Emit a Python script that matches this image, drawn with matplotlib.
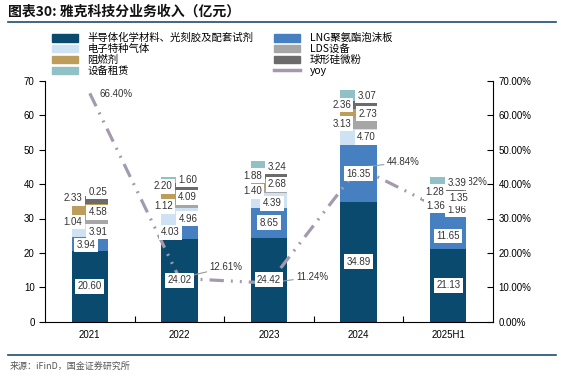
import matplotlib
matplotlib.use("Agg")
import matplotlib.pyplot as plt
from matplotlib.lines import Line2D
from matplotlib.patches import Patch
from matplotlib.ticker import FuncFormatter, FixedLocator
import numpy as np

plt.rcParams['font.family'] = ['Liberation Sans', 'Noto Sans CJK SC']

years = ['2021', '2022', '2023', '2024', '2025H1']
semi = [20.60, 24.02, 24.42, 34.89, 21.13]
lng = [3.94, 4.03, 8.65, 16.35, 11.65]
gas = [3.91, 4.96, 4.39, 4.70, 1.96]
lds = [1.04, 1.12, 1.40, 3.13, 1.36]
flame = [4.58, 4.09, 2.68, 2.73, 1.35]
silica = [2.33, 2.20, 1.88, 2.36, 1.28]
rental = [0.25, 1.60, 3.24, 3.07, 3.39]
yoy = [66.40, 12.61, 11.24, 44.84, 31.82]

names = ['半导体化学材料、光刻胶及配套试剂', 'LNG聚氨酯泡沫板', '电子特种气体', 'LDS设备',
         '阻燃剂', '球形硅微粉', '设备租赁']
series = [semi, lng, gas, lds, flame, silica, rental]
colors = ['#0b4a6f', '#4680c0', '#cfe2f3', '#a6a6a6', '#bd9d5c', '#6b6b6b', '#8fc1c7']

# label offsets in pixels (layout only)
dx = [[0, 0, 0, 0, 0],
      [-4, -9, 0, 0, 0],
      [8, 8.5, 3, 8, 8.5],
      [-17, -16, -16.5, -17, -12.5],
      [8, 8, 8.5, 9, 10],
      [-17, -16, -16, -17, -14],
      [8, 8, 8, 8, 9]]
dy = [[0, 0, 0, 0, 0],
      [-1, 0, 0, 0, -7],
      [-1, -2, -2.7, 0, -4],
      [0, 0, -1, 0, -6],
      [0, 0, -1, 0, -3],
      [2, 0, 0, 0, -1],
      [4, 0, 0, 0, 0]]

W, H = 564, 377
fig = plt.figure(figsize=(W / 100, H / 100), dpi=100)
ax1 = fig.add_axes([45 / W, (H - 321.7) / H, 448 / W, 240.8 / H])
ax2 = ax1.twinx()

x = np.arange(len(years))
bw = 0.405
bottom = np.zeros(len(years))
for vals, c, n in zip(series, colors, names):
    ax1.bar(x, vals, bw, bottom=bottom, color=c, label=n, zorder=2)
    bottom = bottom + np.array(vals)

ax1.set_xlim(-0.5, len(years) - 0.5)
ax1.set_ylim(0, 70)
ax1.set_yticks(range(0, 71, 10))
ax1.set_xticks(x)
ax1.set_xticklabels(years)
ax1.xaxis.set_minor_locator(FixedLocator(x[:-1] + 0.5))
ax1.tick_params(axis='x', which='major', length=0, labelsize=7, pad=6)
ax1.tick_params(axis='x', which='minor', length=4, direction='in', width=0.8)
ax1.tick_params(axis='y', length=4, direction='out', labelsize=7, width=0.8)
for s in ['top', 'right']:
    ax1.spines[s].set_visible(False)
for s in ['left', 'bottom']:
    ax1.spines[s].set_linewidth(0.8)

ax2.set_ylim(0, 0.70)
ax2.set_yticks(np.arange(0, 0.71, 0.10))
ax2.yaxis.set_major_formatter(FuncFormatter(lambda v, p: f"{v * 100:.2f}%"))
ax2.tick_params(axis='y', length=4, direction='in', labelsize=7, width=0.8, pad=4)
for s in ['top', 'left', 'bottom']:
    ax2.spines[s].set_visible(False)
ax2.spines['right'].set_linewidth(0.8)

line_color = '#a39bad'
yv = np.array(yoy) / 100
ax2.plot(x, yv, color=line_color, lw=2.3, linestyle=(0, (4.5, 2.2, 0.6, 2.2, 0.6, 2.2)),
         zorder=3)

# yoy labels
yoff = [(10, -1), (30, 11), (27, 6), (28, 5), (6, 30)]
for i, (v, off) in enumerate(zip(yv, yoff)):
    ap = None if i == 0 else dict(arrowstyle='-', color='#999999', lw=0.8, shrinkA=0, shrinkB=2)
    ax2.annotate(f"{yoy[i]:.2f}%", xy=(x[i], v), xytext=off, textcoords='offset pixels',
                 ha='left', va='center', fontsize=7, color='#333333', arrowprops=ap, zorder=4)

# bar value labels (drawn on ax2 so they cover the line)
bottom = np.zeros(len(years))
for si, vals in enumerate(series):
    for i, v in enumerate(vals):
        yc = bottom[i] + v / 2
        ax2.annotate(f"{v:.2f}", xy=(x[i], yc), xycoords=ax1.transData,
                     xytext=(dx[si][i], dy[si][i]), textcoords='offset pixels',
                     ha='center', va='center', fontsize=7, color='#333333', zorder=5,
                     bbox=dict(boxstyle='square,pad=0.25', fc='white', ec='none'))
    bottom = bottom + np.array(vals)

# legend
handles = [Patch(color=c) for c in colors] + [Line2D([], [], color=line_color, lw=2.5)]
labels = names + ['yoy']
order = [0, 2, 4, 6, 1, 3, 5, 7]
leg = fig.legend([handles[k] for k in order], [labels[k] for k in order], ncol=2,
                 loc='upper left', bbox_to_anchor=(52 / W, 1 - 33 / H), frameon=False,
                 prop={'family': ['Noto Sans CJK SC'], 'size': 7.5},
                 handlelength=2.5, handleheight=0.75, handletextpad=0.9,
                 columnspacing=2.0, labelspacing=0.08, borderpad=0, borderaxespad=0)

# title and frame lines
fig.text(8 / W, 1 - 12 / H, "图表30: 雅克科技分业务收入（亿元）", fontsize=10, fontweight='bold',
         family=['Noto Sans CJK SC'], va='center', ha='left', color='#111111')
fig.add_artist(Line2D([8 / W, 556 / W], [1 - 22 / H] * 2, color='#1d4f6e', lw=1.2))
fig.add_artist(Line2D([8 / W, 556 / W], [1 - 355 / H] * 2, color='#1d4f6e', lw=1.2))
fig.text(10 / W, 1 - 366 / H, "来源：iFinD，国金证券研究所", fontsize=6.5,
         family=['Noto Sans CJK SC'], va='center', ha='left', color='#555555')

fig.savefig("out.png", dpi=100)
